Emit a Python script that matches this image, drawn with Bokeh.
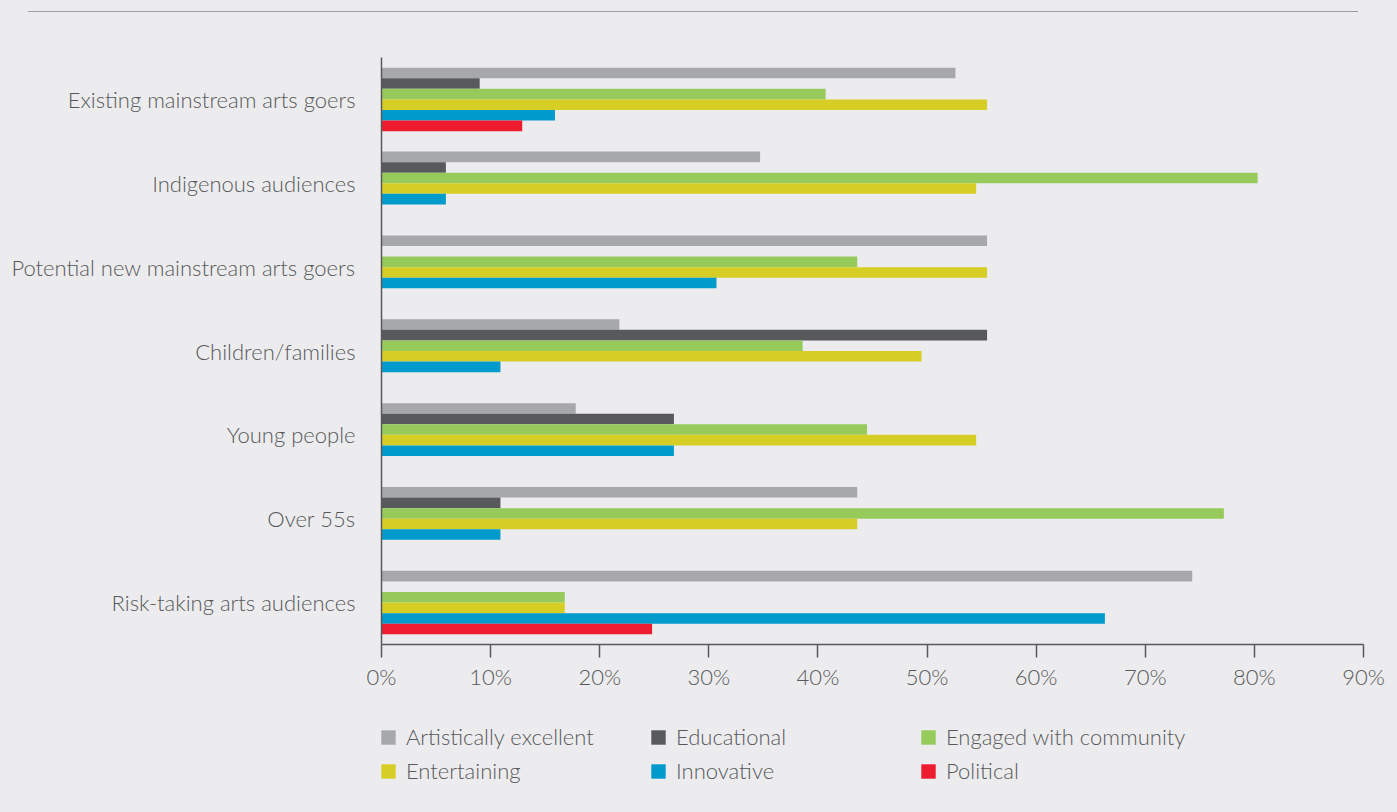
from bokeh.plotting import figure
from bokeh.models import (ColumnDataSource, FactorRange, Range1d, Legend, LegendItem,
                          PrintfTickFormatter, FixedTicker, Div)
from bokeh.transform import dodge
from bokeh.layouts import column
from bokeh.embed import file_html
from bokeh.resources import INLINE

categories = ["Existing mainstream arts goers", "Indigenous audiences",
              "Potential new mainstream arts goers", "Children/families",
              "Young people", "Over 55s", "Risk-taking arts audiences"]
series_names = ["Artistically excellent", "Educational", "Engaged with community",
                "Entertaining", "Innovative", "Political"]
artistically_excellent = [52.6, 34.7, 55.5, 21.8, 17.8, 43.6, 74.3]
educational = [9.0, 5.9, 0.0, 55.5, 26.8, 10.9, 0.0]
engaged_with_community = [40.7, 80.3, 43.6, 38.6, 44.5, 77.2, 16.8]
entertaining = [55.5, 54.5, 55.5, 49.5, 54.5, 43.6, 16.8]
innovative = [15.9, 5.9, 30.7, 10.9, 26.8, 10.9, 66.3]
political = [12.9, 0.0, 0.0, 0.0, 0.0, 0.0, 24.8]
x_ticks = [0, 10, 20, 30, 40, 50, 60, 70, 80, 90]

colors = ["#a7a8ab", "#58595b", "#96cb5c", "#d7ce25", "#009bcc", "#ed1c2e"]
BG = "#ececee"
TXT = "#58595b"
FONT = "'Lato Light', Lato"

source = ColumnDataSource(dict(cat=categories,
                               s0=artistically_excellent, s1=educational,
                               s2=engaged_with_community, s3=entertaining,
                               s4=innovative, s5=political))

W = 1397
TOP_H = 13
MAIN_H = 700 - TOP_H
LEG_H = 812 - 700

p = figure(width=W, height=MAIN_H, output_backend="svg", toolbar_location=None,
           y_range=FactorRange(*list(reversed(categories))),
           x_range=Range1d(0, 90))
p.min_border_left = 381
p.min_border_right = W - 1363
p.min_border_top = 57 - TOP_H
p.min_border_bottom = 700 - 644
p.background_fill_color = BG
p.border_fill_color = BG
p.outline_line_color = None
p.grid.visible = False

h = 0.126
for j in range(6):
    off = (2.5 - j) * h
    p.hbar(y=dodge("cat", off, range=p.y_range), right="s%d" % j, left=0,
           height=h, source=source, fill_color=colors[j], line_color=None)

xa = p.xaxis[0]
xa.ticker = FixedTicker(ticks=x_ticks)
xa.formatter = PrintfTickFormatter(format="%d%%")
xa.axis_line_color = TXT
xa.axis_line_width = 1.5
xa.major_tick_line_color = TXT
xa.major_tick_line_width = 1.5
xa.major_tick_out = 13
xa.major_tick_in = 0
xa.minor_tick_line_color = None
xa.major_label_text_font = FONT
xa.major_label_text_font_size = "22px"
xa.major_label_text_color = TXT
xa.major_label_standoff = 5

ya = p.yaxis[0]
ya.axis_line_color = TXT
ya.axis_line_width = 1.5
ya.major_tick_line_color = None
ya.minor_tick_line_color = None
ya.major_label_text_font = FONT
ya.major_label_text_font_size = "22px"
ya.major_label_text_color = TXT
ya.major_label_standoff = 20

# legend-only figure: zero-height copies of the bars, out of view, carry the swatches
pl = figure(width=W, height=LEG_H, output_backend="svg", toolbar_location=None,
            y_range=FactorRange(*list(reversed(categories))),
            x_range=Range1d(500, 600),
            x_axis_type=None, y_axis_type=None)
pl.min_border_left = 381
pl.min_border_right = W - 1363
pl.min_border_top = 0
pl.min_border_bottom = 0
pl.background_fill_color = BG
pl.border_fill_color = BG
pl.outline_line_color = None
pl.grid.visible = False
leg_renderers = []
for j in range(6):
    r = pl.hbar(y="cat", right="s%d" % j, left=0, height=0, source=source,
                fill_color=colors[j], line_color=None)
    leg_renderers.append(r)

items = [LegendItem(label=series_names[j], renderers=[leg_renderers[j]]) for j in range(6)]
legend = Legend(items=items, location=(-2, 28), ncols=3,
                orientation="horizontal",
                glyph_width=18, glyph_height=18, label_standoff=9,
                label_width=236, label_height=20, spacing=7,
                padding=0, margin=0, border_line_color=None,
                background_fill_alpha=0,
                label_text_font=FONT, label_text_font_size="22px",
                label_text_color=TXT)
pl.add_layout(legend, "center")

top = Div(text='<div style="margin-left:28px;width:1330px;border-top:1.5px solid #9d9ea1;margin-top:11px;"></div>',
          width=W, height=TOP_H, margin=(0, 0, 0, 0),
          styles={"background-color": BG})

layout = column(top, p, pl, spacing=0, margin=(0, 0, 0, 0),
                styles={"background-color": BG})
open("out.html", "w").write(file_html(layout, INLINE))
